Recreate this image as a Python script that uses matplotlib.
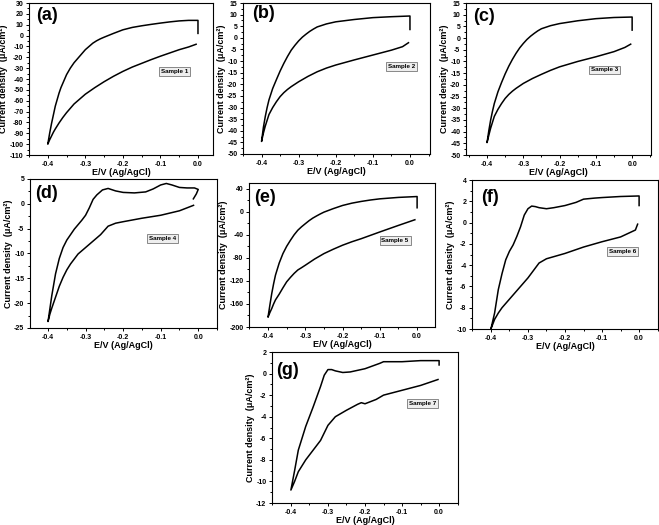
import matplotlib
matplotlib.use("Agg")
import matplotlib.pyplot as plt
from matplotlib.ticker import MultipleLocator

plt.rcParams['font.family'] = ['Liberation Sans', 'DejaVu Sans']
plt.rcParams['font.weight'] = 'bold'
plt.rcParams['axes.unicode_minus'] = False

# CV loops: start at the right end, up the vertical step, along the upper
# branch to -0.4 V, then back along the lower branch
e_a = [0.0, 0.0, -0.025, -0.05, -0.075, -0.1, -0.125, -0.15, -0.175, -0.2, -0.225, -0.25, -0.26, -0.27, -0.28, -0.29,
       -0.3, -0.31, -0.32, -0.33, -0.34, -0.345, -0.35, -0.355, -0.36, -0.365, -0.37, -0.375, -0.38, -0.385, -0.39, -0.395, -0.4,
       -0.395, -0.39, -0.385, -0.38, -0.37, -0.36, -0.35, -0.34, -0.33, -0.32, -0.31, -0.3, -0.275, -0.25, -0.225, -0.2,
       -0.175, -0.15, -0.125, -0.1, -0.075, -0.05, -0.025, -0.005]
j_a = [2, 14, 14, 13.5, 12.6, 11.5, 10.3, 9, 7.5, 5.3, 2, -1.5, -3, -4.8, -7, -10,
       -13, -17, -21, -25, -30, -33, -36, -40, -44, -48, -53, -59, -65, -73, -81, -90, -100,
       -96, -92.5, -89, -86, -80.5, -75.5, -71, -67, -63, -60, -57, -54, -48, -42.5, -37.5, -33,
       -29, -25.6, -22.2, -19, -16, -13, -10.5, -8]

e_b = [0.0, 0.0, -0.05, -0.1, -0.15, -0.2, -0.225, -0.25, -0.26, -0.27, -0.28, -0.29, -0.3, -0.31, -0.32, -0.33,
       -0.34, -0.35, -0.36, -0.37, -0.38, -0.385, -0.39, -0.395, -0.4,
       -0.395, -0.39, -0.385, -0.38, -0.37, -0.36, -0.35, -0.34, -0.33, -0.32, -0.3, -0.275, -0.25, -0.225, -0.2,
       -0.15, -0.1, -0.05, -0.02, -0.004]
j_b = [3.6, 9.4, 9.1, 8.7, 7.9, 6.9, 6.0, 4.7, 3.8, 2.8, 1.6, 0.3, -1.3, -3.2, -5.3, -8,
       -11, -14.3, -18, -21.8, -26.7, -30, -33.9, -38.5, -44.6,
       -41, -38, -35.5, -33, -30, -27.5, -25.3, -23.6, -22.2, -21, -18.9, -16.6, -14.6, -13, -11.7,
       -9.5, -7.4, -5.3, -3.8, -2.1]

e_c = [0.0, 0.0, -0.05, -0.1, -0.15, -0.2, -0.225, -0.25, -0.26, -0.27, -0.28, -0.29, -0.3, -0.31, -0.32, -0.33,
       -0.34, -0.35, -0.36, -0.37, -0.38, -0.385, -0.39, -0.395, -0.4,
       -0.395, -0.39, -0.385, -0.38, -0.37, -0.36, -0.35, -0.34, -0.33, -0.32, -0.3, -0.275, -0.25, -0.225, -0.2,
       -0.15, -0.1, -0.05, -0.02, -0.004]
j_c = [3.4, 9.0, 8.8, 8.3, 7.4, 6.2, 5.3, 4.0, 3.1, 2.0, 0.8, -0.6, -2.3, -4.2, -6.5, -9.1,
       -12, -15.3, -19, -23, -28, -31.3, -35, -39.5, -44.7,
       -41.5, -38.5, -36, -33.5, -30.5, -28, -25.8, -24.1, -22.7, -21.5, -19.4, -17.3, -15.5, -13.8, -12.3,
       -10, -8, -5.8, -4.0, -2.6]

e_d = [-0.013, -0.005, 0.0, -0.01, -0.03, -0.05, -0.07, -0.085, -0.1, -0.12, -0.14, -0.17, -0.2, -0.22, -0.24, -0.255,
       -0.27, -0.28, -0.29, -0.3, -0.31, -0.32, -0.33, -0.34, -0.35, -0.36, -0.37, -0.38, -0.39, -0.4,
       -0.395, -0.39, -0.38, -0.37, -0.36, -0.35, -0.34, -0.32, -0.3, -0.28, -0.26, -0.24, -0.22, -0.2, -0.15, -0.1, -0.05, -0.0125]
j_d = [1.0, 2.0, 2.9, 3.2, 3.2, 3.3, 3.8, 4.1, 3.8, 3.0, 2.4, 2.2, 2.3, 2.6, 3.1, 2.8,
       1.8, 0.9, -0.8, -2.3, -3.3, -4.2, -5.1, -6.2, -7.3, -8.8, -11, -14.1, -18.5, -23.7,
       -22.2, -21, -18.8, -16.6, -14.8, -13.3, -12.1, -10.1, -8.8, -7.5, -6.2, -4.5, -3.9, -3.6, -2.9, -2.3, -1.4, -0.3]

e_e = [0.0, 0.0, -0.05, -0.1, -0.125, -0.15, -0.175, -0.2, -0.225, -0.25, -0.26, -0.27, -0.28, -0.29, -0.3, -0.31,
       -0.32, -0.33, -0.34, -0.35, -0.36, -0.37, -0.38, -0.385, -0.39, -0.395, -0.4,
       -0.395, -0.39, -0.385, -0.38, -0.37, -0.36, -0.35, -0.34, -0.33, -0.32, -0.31, -0.3, -0.275, -0.25, -0.225, -0.2,
       -0.175, -0.15, -0.1, -0.05, -0.006]
j_e = [7, 26.5, 25, 22.5, 20.5, 18, 15, 11, 5.5, -0.6, -3.8, -7.3, -11, -15.5, -20.7, -26,
       -32, -40, -49.6, -60, -72.6, -89, -110, -125, -142, -162, -183,
       -175, -168, -160, -153, -143, -132, -121.6, -114, -107, -101, -97, -92.8, -82, -72.6, -65, -58,
       -52, -46.7, -35, -23.6, -13.8]

e_f = [0.0, 0.0, -0.05, -0.1, -0.12, -0.15, -0.17, -0.2, -0.23, -0.25, -0.27, -0.28, -0.29, -0.3, -0.31, -0.32,
       -0.33, -0.34, -0.35, -0.36, -0.37, -0.38, -0.39, -0.4,
       -0.39, -0.38, -0.37, -0.36, -0.34, -0.32, -0.3, -0.27, -0.25, -0.2, -0.15, -0.1, -0.05, -0.01, -0.004]
j_f = [1.6, 2.5, 2.45, 2.35, 2.3, 2.2, 1.9, 1.6, 1.4, 1.3, 1.4, 1.5, 1.55, 1.3, 0.7, -0.4,
       -1.3, -2.1, -2.7, -3.5, -4.8, -6.3, -8.5, -10,
       -9.1, -8.5, -8.0, -7.6, -6.8, -6.0, -5.2, -3.8, -3.4, -2.9, -2.3, -1.8, -1.35, -0.7, -0.15]

e_g = [0.0, 0.0, -0.05, -0.1, -0.15, -0.16, -0.18, -0.2, -0.24, -0.26, -0.28, -0.29, -0.3, -0.31, -0.32, -0.34,
       -0.36, -0.38, -0.39, -0.4,
       -0.39, -0.38, -0.36, -0.34, -0.32, -0.3, -0.28, -0.25, -0.22, -0.21, -0.2, -0.17, -0.15, -0.1, -0.05, -0.003]
j_g = [0.8, 1.2, 1.2, 1.1, 1.1, 0.95, 0.7, 0.45, 0.15, 0.1, 0.25, 0.37, 0.37, -0.15, -1.2, -3.1,
       -4.9, -7.1, -9, -10.8,
       -10.0, -9.1, -8, -7.1, -6.2, -4.8, -4.0, -3.4, -2.85, -2.7, -2.8, -2.4, -2.0, -1.55, -1.1, -0.55]

panel_labels = ['(a)', '(b)', '(c)', '(d)', '(e)', '(f)', '(g)']
sample_names = ['Sample 1', 'Sample 2', 'Sample 3', 'Sample 4', 'Sample 5', 'Sample 6', 'Sample 7']

W, H = 659, 525
fig = plt.figure(figsize=(W / 100, H / 100), dpi=100)

# pixel box (left, right, top, bottom), xlim, ylim, y major / minor step,
# sample box position and panel label position (axes fraction)
panels = [
    ((29, 213, 3, 155), (-0.45, 0.04), (-110, 30), 10, 5, (0.79, 0.55), (0.04, 0.92)),
    ((243, 430, 3, 154), (-0.45, 0.054), (-50, 15), 5, 2.5, (0.85, 0.58), (0.05, 0.93)),
    ((466, 651, 3, 155), (-0.458, 0.052), (-50, 15), 5, 2.5, (0.75, 0.56), (0.04, 0.91)),
    ((30, 217, 179, 328), (-0.448, 0.05), (-25, 5), 5, 2.5, (0.71, 0.6), (0.03, 0.9)),
    ((249, 435, 183, 327), (-0.451, 0.048), (-200, 50), 40, 20, (0.785, 0.6), (0.03, 0.9)),
    ((472, 658, 180, 329), (-0.451, 0.051), (-10, 4), 2, 1, (0.81, 0.52), (0.05, 0.88)),
    ((272, 458, 352, 503), (-0.451, 0.051), (-12, 2), 2, 1, (0.81, 0.66), (0.02, 0.88)),
]
curves = [(e_a, j_a), (e_b, j_b), (e_c, j_c), (e_d, j_d), (e_e, j_e), (e_f, j_f), (e_g, j_g)]

for i, (box, xl, yl, ymaj, ymin, spos, lpos) in enumerate(panels):
    l, r, t, b = box
    ax = fig.add_axes([l / W, 1 - b / H, (r - l) / W, (b - t) / H])
    ex, jy = curves[i]
    ax.plot(ex, jy, color='black', lw=1.1, solid_joinstyle='round')
    ax.set_xlim(*xl)
    ax.set_ylim(*yl)
    ax.xaxis.set_major_locator(MultipleLocator(0.1))
    ax.xaxis.set_minor_locator(MultipleLocator(0.05))
    ax.yaxis.set_major_locator(MultipleLocator(ymaj))
    ax.yaxis.set_minor_locator(MultipleLocator(ymin))
    ax.tick_params(which='both', direction='out', labelsize=5, width=0.7, pad=1.5)
    ax.tick_params(which='major', length=2.5)
    ax.tick_params(which='minor', length=1.3)
    for s in ax.spines.values():
        s.set_linewidth(0.8)
    ax.set_xlabel('E/V (Ag/AgCl)', fontsize=6.5, fontweight='bold', labelpad=0)
    ax.set_ylabel('Current density  (\u03bcA/cm\u00b2)', fontsize=6.5, fontweight='bold', labelpad=1)
    ax.text(lpos[0], lpos[1], panel_labels[i], transform=ax.transAxes, fontsize=13,
            fontweight='bold', ha='left', va='center')
    ax.text(spos[0], spos[1], sample_names[i], transform=ax.transAxes, fontsize=4.5,
            fontweight='bold', ha='center', va='center',
            bbox=dict(boxstyle='square,pad=0.3', fc='#eeeeee', ec='#777777', lw=0.6))

fig.savefig('out.png', dpi=100)
